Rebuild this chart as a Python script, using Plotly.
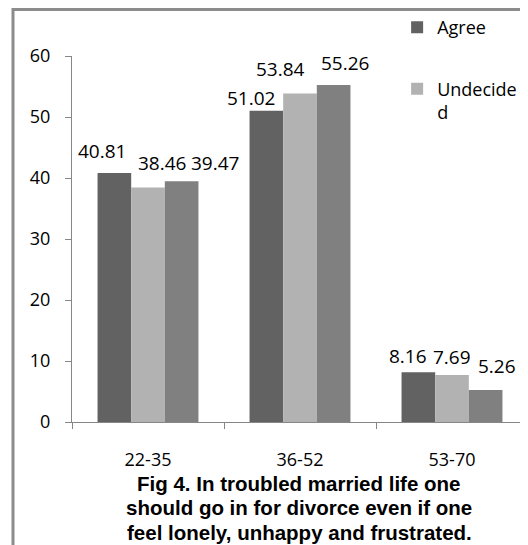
import plotly.graph_objects as go

# Age groups and percentage responses
age_groups = ["22-35", "36-52", "53-70"]
agree = [40.81, 51.02, 8.16]
undecided = [38.46, 53.84, 7.69]
disagree = [39.47, 55.26, 5.26]

caption_lines = [
    "Fig 4. In troubled married life one",
    "should go in for divorce even if one",
    "feel lonely, unhappy and frustrated.",
]

series = [
    # (key, values, colour, legend label, show in legend)
    ("Agree", agree, "#626262", "Agree", True),
    ("Undecided", undecided, "#b2b2b2", "Undecide<br>d", True),
    ("Disagree", disagree, "#808080", "Disagree", False),
]

# Excel nudged the data labels sideways/up so they don't collide;
# (dx, dy) in pixels from the centre of the bar top, per series per group
LABEL_NUDGE = {
    "Agree": [(-13, 22), (-16, 13), (-11, 16)],
    "Undecided": [(14, 24), (-20, 25), (0, 18)],
    "Disagree": [(33, 18), (11, 22), (11, 24)],
}
BAR_STEP = 33.5  # px between neighbouring bars in a group

TICK_FONT = dict(family="Open Sans", size=18, color="#000000")
LABEL_FONT = dict(family="Open Sans", size=19, color="#000000")
AXIS_COLOR = "#868686"

fig = go.Figure()

for i, (key, vals, colour, label, show) in enumerate(series):
    fig.add_trace(
        go.Bar(
            x=age_groups,
            y=vals,
            name=label,
            marker=dict(color=colour, line=dict(width=0)),
            showlegend=show,
            legendgroup=key,
        )
    )
    for j, (cat, v) in enumerate(zip(age_groups, vals)):
        dx, dy = LABEL_NUDGE[key][j]
        fig.add_annotation(
            x=cat,
            y=v,
            xref="x",
            yref="y",
            text=f"{v}",
            showarrow=False,
            xanchor="center",
            yanchor="middle",
            xshift=(i - 1) * BAR_STEP + dx,
            yshift=dy,
            font=LABEL_FONT,
        )

# Frame round the chart (left and top edges only, right/bottom cut off)
fig.add_shape(
    type="path",
    xref="paper",
    yref="paper",
    path="M -0.1294,-0.34 L -0.1294,1.127 L 1.02,1.127",
    line=dict(color="#8c8c8c", width=3),
)

# Caption under the chart, one annotation per line
for k, line in enumerate(caption_lines):
    fig.add_annotation(
        text=line,
        xref="paper",
        yref="paper",
        x=0.498,
        y=-0.1667 - k * 0.0675,
        xanchor="center",
        yanchor="middle",
        showarrow=False,
        font=dict(family="Liberation Sans", size=20.5, color="#000000", weight="bold"),
    )

# page body has an 8px margin, so the figure is 8px smaller than the window
fig.update_layout(
    width=520,
    height=537,
    margin=dict(l=64, r=0, t=48, b=123),
    paper_bgcolor="white",
    plot_bgcolor="white",
    barmode="group",
    bargap=0.336,
    bargroupgap=0,
    showlegend=True,
    legend=dict(
        x=0.713,
        y=1.128,
        xanchor="left",
        yanchor="top",
        font=dict(family="Open Sans", size=18, color="#000000"),
        traceorder="grouped",
        tracegroupgap=35,
        valign="top",
        itemwidth=30,
        bgcolor="rgba(0,0,0,0)",
    ),
    xaxis=dict(
        showline=True,
        linecolor=AXIS_COLOR,
        linewidth=1,
        ticks="outside",
        tickson="boundaries",
        ticklen=6,
        tickcolor=AXIS_COLOR,
        tickfont=TICK_FONT,
        ticklabelstandoff=21,
        showgrid=False,
    ),
    yaxis=dict(
        range=[0, 60],
        dtick=10,
        showline=True,
        linecolor=AXIS_COLOR,
        linewidth=1,
        ticks="outside",
        ticklen=6,
        tickcolor=AXIS_COLOR,
        tickfont=TICK_FONT,
        ticklabelstandoff=11,
        showgrid=False,
        zeroline=False,
    ),
)

fig.write_html("out.html")
